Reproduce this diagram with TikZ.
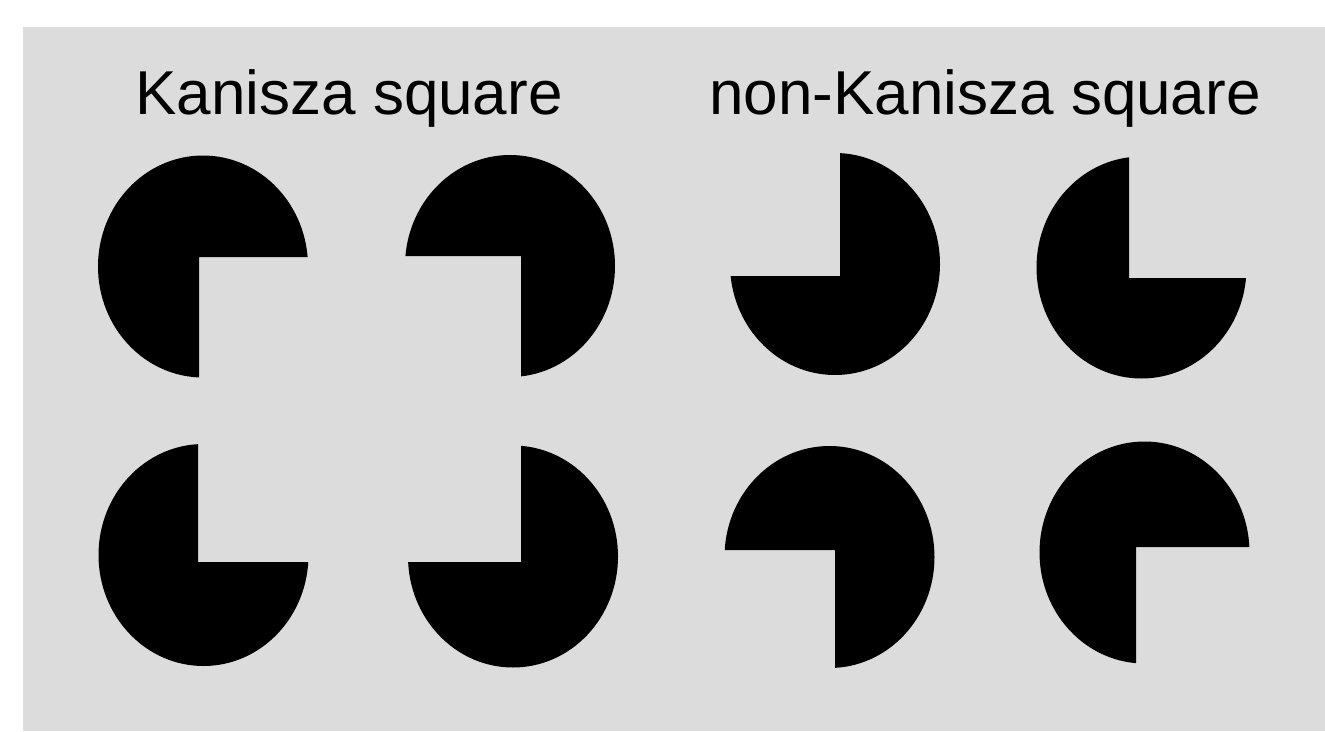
\documentclass[tikz,border=0pt]{standalone}
\usepackage{fontspec}
\setmainfont{Liberation Sans}
\definecolor{bg}{RGB}{220,220,220}
\tikzset{
  title/.style={anchor=base, inner sep=0pt, font=\fontsize{62}{74}\selectfont, text=black},
  disk/.style={fill=black}
}
% #1,#2 ellipse centre; #3,#4 notch corner; #5,#6 notch direction (+1/-1)
\newcommand\pacfig[6]{%
  \begin{scope}
    \clip (#3,#4) -- ++({(#5)*200},0) -- ++(0,{-(#6)*200}) -- ++({-(#5)*400},0)
          -- ++(0,{(#6)*400}) -- ++({(#5)*200},0) -- cycle;
    \fill[disk] (#1,#2) ellipse [x radius=105, y radius=111];
  \end{scope}}
\begin{document}
\begin{tikzpicture}[x=1pt,y=-1pt]
\useasboundingbox (0,0) rectangle (1325,731);
\fill[white] (0,0) rectangle (1325,731);
\fill[bg] (23,27) rectangle (1325,731);
\node[title] (t1) at (349,114) {Kanisza square};
\node[title] (t2) at (985,114) {non-Kanisza square};
% Kanisza square
\pacfig{203}{266.5}{199}{257}{1}{1}
\pacfig{510}{266}{521}{256}{-1}{1}
\pacfig{203.5}{555}{198}{562}{1}{-1}
\pacfig{513}{556.5}{521}{562}{-1}{-1}
% non-Kanisza square
\pacfig{835}{264}{840}{276}{-1}{-1}
\pacfig{1141.5}{267.5}{1129}{278}{1}{-1}
\pacfig{829.5}{557}{835}{550}{-1}{1}
\pacfig{1144.5}{552.5}{1136}{547}{1}{1}
\end{tikzpicture}
\end{document}
